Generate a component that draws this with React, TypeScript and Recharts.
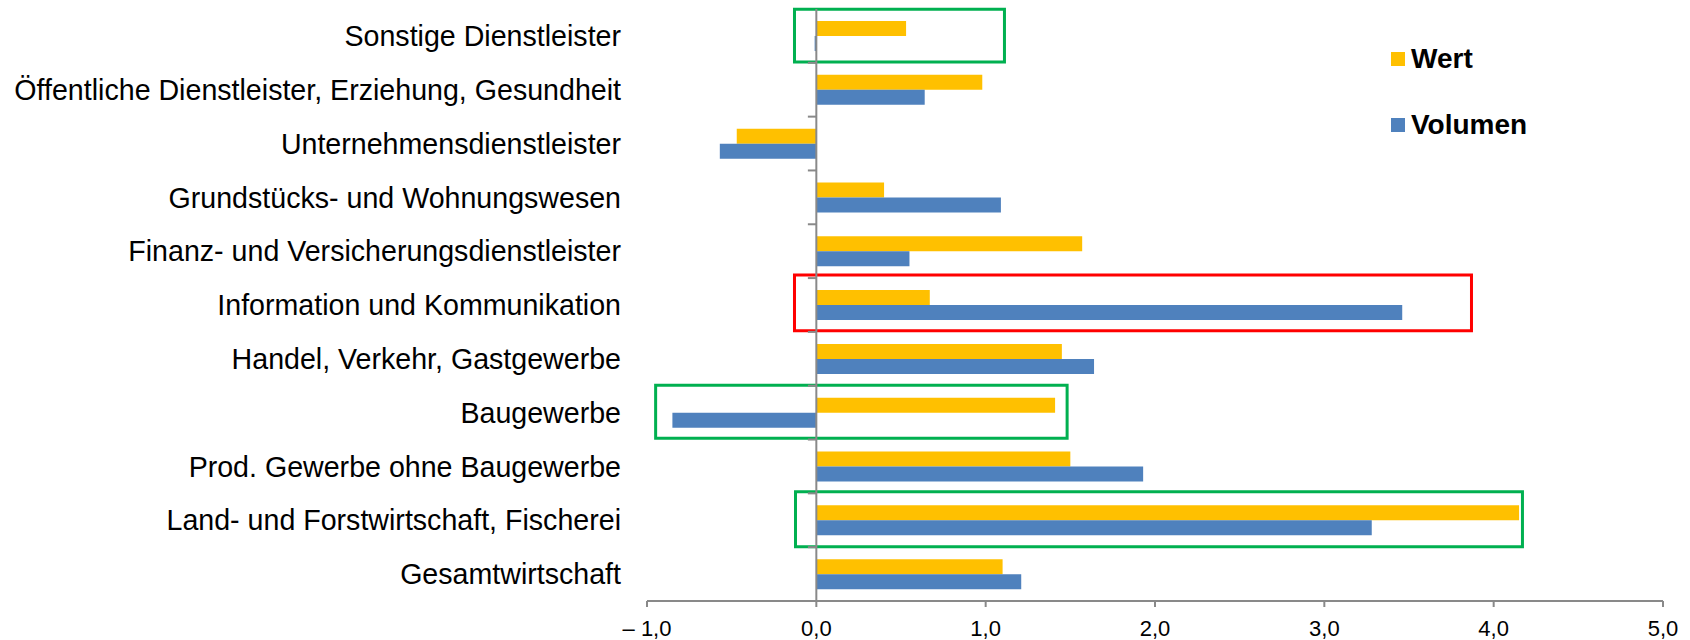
import React from 'react';
import { BarChart, Bar, XAxis, YAxis, ReferenceLine, ReferenceArea, Legend } from 'recharts';

const categories = [
  'Sonstige Dienstleister',
  'Öffentliche Dienstleister, Erziehung, Gesundheit',
  'Unternehmensdienstleister',
  'Grundstücks- und Wohnungswesen',
  'Finanz- und Versicherungsdienstleister',
  'Information und Kommunikation',
  'Handel, Verkehr, Gastgewerbe',
  'Baugewerbe',
  'Prod. Gewerbe ohne Baugewerbe',
  'Land- und Forstwirtschaft, Fischerei',
  'Gesamtwirtschaft',
];
const wert = [0.53, 0.98, -0.47, 0.4, 1.57, 0.67, 1.45, 1.41, 1.5, 4.15, 1.1];
const volumen = [-0.01, 0.64, -0.57, 1.09, 0.55, 3.46, 1.64, -0.85, 1.93, 3.28, 1.21];
const xTicks = [-1, 0, 1, 2, 3, 4, 5];
const seriesNames = ['Wert', 'Volumen'];

// highlight boxes in data units (x: value axis, y: category-band index from top)
const highlightBoxes = [
  { x1: -0.129, x2: 1.111, y1: 0.006, y2: 0.985, kind: 'good' },
  { x1: -0.129, x2: 3.869, y1: 4.942, y2: 5.977, kind: 'bad' },
  { x1: -0.949, x2: 1.481, y1: 6.992, y2: 7.977, kind: 'good' },
  { x1: -0.123, x2: 4.17, y1: 8.969, y2: 9.991, kind: 'good' },
];

const COLORS = { Wert: '#FFC000', Volumen: '#4F81BD' };
const BOX_COLORS = { good: '#00B050', bad: '#FF0000' };
const AXIS_GREY = '#898989';
const FONT = '"Liberation Sans", Arial, sans-serif';

const data = categories.map((name, i) => ({ name, Wert: wert[i], Volumen: volumen[i] }));
const boundaries = categories.slice(1).map((_, i) => i + 1);

const fmt = (v: number) => {
  const s = Math.abs(v).toFixed(1).replace('.', ',');
  return v < 0 ? '– ' + s : s;
};

const renderLegend = (props: any) => {
  const payload = [...(props.payload || [])].sort(
    (a: any, b: any) => seriesNames.indexOf(a.value) - seriesNames.indexOf(b.value)
  );
  return (
    <div style={{ fontFamily: FONT, fontWeight: 'bold', fontSize: 28, color: '#000' }}>
      {payload.map((e: any, i: number) => (
        <div key={i} style={{ display: 'flex', alignItems: 'center', height: 66 }}>
          <span style={{ display: 'inline-block', width: 14, height: 14, background: e.color, marginRight: 6 }} />
          <span>{e.value}</span>
        </div>
      ))}
    </div>
  );
};

export default function App() {
  return (
    <div style={{ position: 'absolute', left: 0, top: 0, background: '#fff' }}>
      <BarChart
        width={1690}
        height={640}
        data={data}
        layout="vertical"
        margin={{ top: 9, right: 27, bottom: 0, left: 0 }}
        barSize={15}
        barGap={0}
        style={{ fontFamily: FONT }}
      >
        <XAxis
          type="number"
          domain={[-1, 5]}
          ticks={xTicks}
          interval={0}
          height={39}
          tickFormatter={fmt}
          axisLine={{ stroke: AXIS_GREY, strokeWidth: 2 }}
          tickLine={{ stroke: AXIS_GREY, strokeWidth: 2 }}
          tickSize={6}
          tickMargin={13}
          tick={{ fontSize: 22, fill: '#000', fontFamily: FONT }}
        />
        <YAxis
          type="category"
          dataKey="name"
          width={647}
          interval={0}
          axisLine={false}
          tickLine={false}
          tickSize={0}
          tickMargin={26}
          tick={{ fontSize: 28.6, fill: '#000', fontFamily: FONT }}
        />
        <YAxis
          yAxisId="num"
          type="number"
          dataKey={(d: any) => categories.indexOf(d.name)}
          domain={[0, categories.length]}
          allowDataOverflow={true}
          ticks={[0, categories.length]}
          hide
        />
        <Legend
          layout="vertical"
          align="center"
          verticalAlign="middle"
          itemSorter={null as any}
          content={renderLegend}
          wrapperStyle={{ left: 1391, top: 26, width: 200, height: 140 }}
        />
        {seriesNames.map((s) => (
          <Bar key={s} dataKey={s} name={s} fill={(COLORS as any)[s]} isAnimationActive={false} />
        ))}
        <ReferenceLine x={0} stroke={AXIS_GREY} strokeWidth={2} />
        {boundaries.map((b) => (
          <ReferenceLine
            key={b}
            yAxisId="num"
            segment={[{ x: -0.05, y: b }, { x: 0, y: b }]}
            stroke={AXIS_GREY}
            strokeWidth={2}
          />
        ))}
        {highlightBoxes.map((h, i) => (
          <ReferenceArea
            key={i}
            yAxisId="num"
            x1={h.x1}
            x2={h.x2}
            y1={h.y1}
            y2={h.y2}
            fill="none"
            fillOpacity={0}
            stroke={(BOX_COLORS as any)[h.kind]}
            strokeWidth={3}
            strokeOpacity={1}
            ifOverflow="visible"
          />
        ))}
      </BarChart>
    </div>
  );
}
